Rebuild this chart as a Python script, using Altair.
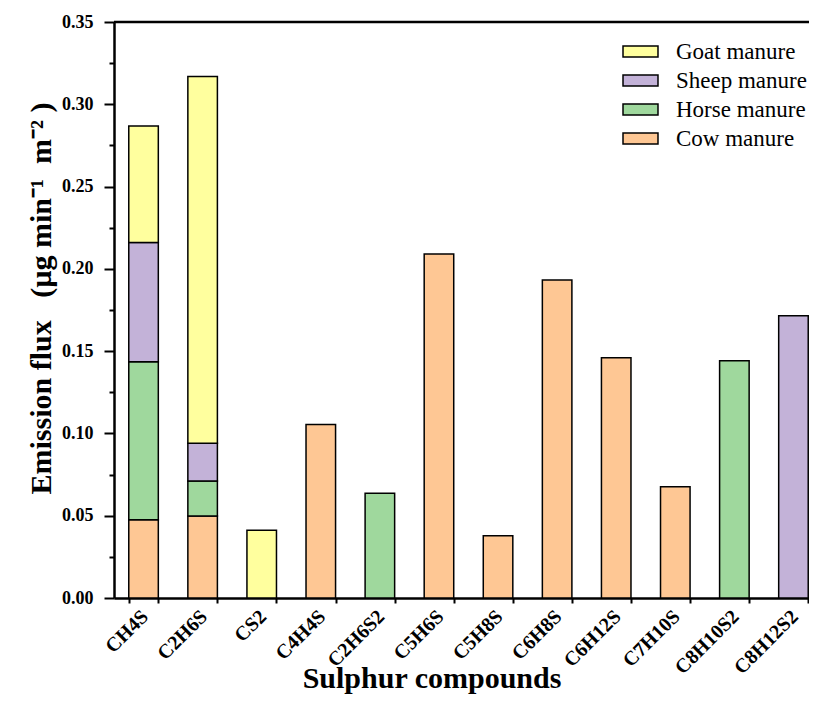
import altair as alt
import pandas as pd

compounds = ["CH4S", "C2H6S", "CS2", "C4H4S", "C2H6S2", "C5H6S", "C5H8S",
             "C6H8S", "C6H12S", "C7H10S", "C8H10S2", "C8H12S2"]
cow   = [0.0476, 0.0498, 0.0, 0.1054, 0.0, 0.2090, 0.0379, 0.1932, 0.1460, 0.0676, 0.0, 0.0]
horse = [0.0959, 0.0213, 0.0, 0.0, 0.0636, 0.0, 0.0, 0.0, 0.0, 0.0, 0.1442, 0.0]
sheep = [0.0725, 0.0230, 0.0, 0.0, 0.0, 0.0, 0.0, 0.0, 0.0, 0.0, 0.0, 0.1715]
goat  = [0.0708, 0.2228, 0.0412, 0.0, 0.0, 0.0, 0.0, 0.0, 0.0, 0.0, 0.0, 0.0]

series = ["Goat manure", "Sheep manure", "Horse manure", "Cow manure"]
colors = ["#FFFF9E", "#C3B2D8", "#9FD89D", "#FEC794"]
y_ticks = [0.0, 0.025, 0.05, 0.075, 0.10, 0.125, 0.15, 0.175, 0.20,
           0.225, 0.25, 0.275, 0.30, 0.325, 0.35]

rows = []
for name, vals, rank in [("Cow manure", cow, 0), ("Horse manure", horse, 1),
                         ("Sheep manure", sheep, 2), ("Goat manure", goat, 3)]:
    for c, v in zip(compounds, vals):
        if v > 0:
            rows.append({"compound": c, "manure": name, "value": v, "rank": rank})
df = pd.DataFrame(rows)

FONT = "Liberation Serif"
major = "round(datum.value*1000) % 50 === 0"
NB = "\u00a0"
y_title = "Emission flux" + NB * 3 + "(µg" + NB + "min⁻¹" + NB * 2 + "m⁻²" + NB + ")"

bars = alt.Chart(df).mark_bar(stroke="black", strokeWidth=1.5).encode(
    x=alt.X("compound:N", sort=compounds,
            scale=alt.Scale(range=[0, 709], paddingInner=0.5, paddingOuter=0.25),
            axis=alt.Axis(title="Sulphur compounds", labelAngle=315, tickBand="extent",
                          tickSize=5, tickWidth=2, domainWidth=2.5, labelPadding=3,
                          labelOffset=-6,
                          labelFont=FONT, labelFontWeight="bold", labelFontSize=20,
                          titleFont=FONT, titleFontWeight="bold", titleFontSize=30,
                          titleX=317.5, titleY=89, titleBaseline="alphabetic",
                          titleAlign="center")),
    y=alt.Y("value:Q", stack="zero",
            scale=alt.Scale(domain=[0, 0.35], nice=False),
            axis=alt.Axis(title=y_title, values=y_ticks,
                          labelExpr=major + " ? format(datum.value, '.2f') : ''",
                          tickSize={"condition": {"test": "!(" + major + ")", "value": 5}, "value": 10},
                          tickWidth=2, domainWidth=2.5, labelPadding=11,
                          labelOverlap=False, labelFlush=False,
                          labelFont=FONT, labelFontWeight="bold", labelFontSize=18,
                          titleFont=FONT, titleFontWeight="bold", titleFontSize=30,
                          titleAngle=270, titleX=-64, titleY=276,
                          titleBaseline="alphabetic", titleAlign="center")),
    color=alt.Color("manure:N", scale=alt.Scale(domain=series, range=colors),
                    legend=alt.Legend(title=None, orient="none", legendX=515, legendY=18,
                                      symbolType="M-2,-0.64H2V0.64H-2Z", symbolSize=306,
                                      symbolStrokeColor="black", symbolStrokeWidth=1.5,
                                      symbolOpacity=1, labelOffset=24,
                                      labelFont=FONT, labelFontSize=23, rowPadding=5)),
    order=alt.Order("rank:Q", sort="ascending"),
)

top = alt.Chart(pd.DataFrame({"a": [0]})).mark_rule(color="black", strokeWidth=2.5).encode(
    x=alt.value(0), x2=alt.value(695), y=alt.value(0))

chart = alt.layer(bars, top).properties(
    width=695, height=576,
    autosize=alt.AutoSizeParams(type="none"),
    padding={"left": 106, "top": 14, "right": 0, "bottom": 96},
).configure_view(stroke=None).configure_axis(
    domainColor="black", tickColor="black", labelColor="black", titleColor="black", grid=False
)

chart.save("out.html", embed_options={"renderer": "svg", "actions": False})
